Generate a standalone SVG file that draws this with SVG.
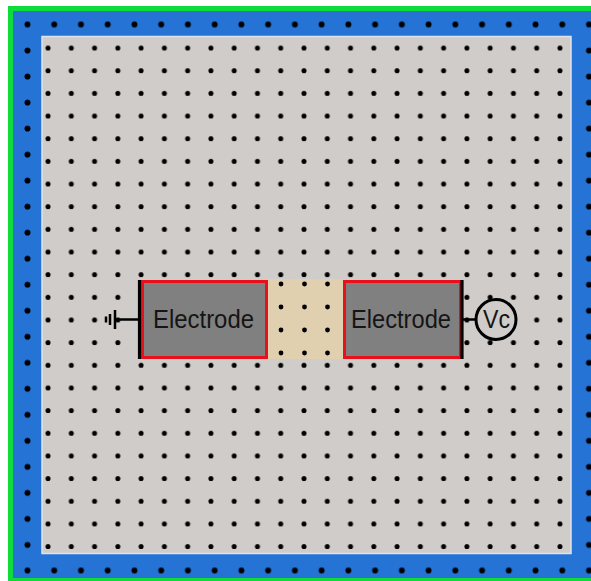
<svg xmlns="http://www.w3.org/2000/svg" width="591" height="581" viewBox="0 0 591 581">
<style>
.w{stroke:#000;fill:none;stroke-width:2.5px}
.bar{stroke:#000;fill:none;stroke-width:3.2px}
.el{fill:#808080;stroke:#e8101a;stroke-width:3px}
.ring{fill:#cfccc9;stroke:#000;stroke-width:3px}
text{font-family:"Liberation Sans",Arial,sans-serif;font-size:25.5px;fill:#151515}
.g circle{r:2.4px;fill:#000}
</style>
<defs>
<pattern id="inner" x="36.4" y="36.7" width="23.27" height="22.66" patternUnits="userSpaceOnUse"><circle cx="11.635" cy="11.33" r="2.5" fill="#000"/></pattern>
<pattern id="outx" x="14.13" y="11.5" width="26.74" height="26" patternUnits="userSpaceOnUse"><circle cx="13.37" cy="13" r="3" fill="#000"/></pattern>
<pattern id="outy" x="14.13" y="11.49" width="26.74" height="26.02" patternUnits="userSpaceOnUse"><circle cx="13.37" cy="13.01" r="3" fill="#000"/></pattern>
</defs>
<rect width="591" height="581" fill="#fff"/>
<g id="frame">
<rect x="8" y="6" width="583" height="575" fill="#0ddc3a"/>
<rect x="13" y="11" width="578" height="567" fill="#2673d6"/>
<rect x="14" y="12" width="577" height="25" fill="url(#outx)"/>
<rect x="14" y="558" width="577" height="20" fill="url(#outx)"/>
<rect x="14" y="37" width="27" height="521" fill="url(#outy)"/>
<rect x="574" y="37" width="17" height="521" fill="url(#outy)"/>
</g>
<g id="substrate">
<rect x="42" y="36.500" width="529" height="517" fill="#cfccc9" stroke="#dfe3ea" stroke-width="1.500"/>
<rect x="43" y="37.500" width="527" height="515" fill="url(#inner)"/>
</g>
<g id="gap">
<rect x="268" y="279" width="75" height="80" fill="#e0d0b0"/>
<g class="g">
<circle cx="281" cy="284"/><circle cx="304.500" cy="284"/><circle cx="327.500" cy="284"/>
<circle cx="281" cy="307"/><circle cx="304.500" cy="307"/><circle cx="327.500" cy="307"/>
<circle cx="281" cy="330"/><circle cx="304.500" cy="330"/><circle cx="327.500" cy="330"/>
<circle cx="281" cy="353"/><circle cx="304.500" cy="353"/><circle cx="327.500" cy="353"/>
</g>
</g>
<g id="electrode-left">
<rect class="el" x="142.500" y="281.500" width="124" height="76"/>
<text x="153" y="328" textLength="101" lengthAdjust="spacingAndGlyphs">Electrode</text>
</g>
<g id="electrode-right">
<rect class="el" x="344.500" y="281.500" width="116" height="76"/>
<text x="351" y="328" textLength="100" lengthAdjust="spacingAndGlyphs">Electrode</text>
</g>
<g id="vc">
<circle class="ring" cx="496" cy="319.500" r="20"/>
<text x="483" y="328" textLength="27" lengthAdjust="spacingAndGlyphs">Vc</text>
</g>
<g id="ground">
<path class="w" d="M115 310V329M110 314V325M106 316.500V322.500"/>
</g>
<g id="connectors">
<path class="bar" d="M139.500 280V359"/>
<path class="bar" d="M462 280V359"/>
<path class="w" d="M115 319.500H140"/>
<path class="w" d="M462 319.500H475"/>
</g>
</svg>
